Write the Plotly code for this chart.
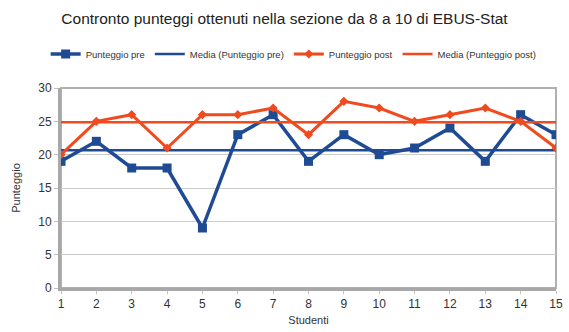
import numpy as np
import plotly.graph_objects as go

# Dati: punteggi per studente prima e dopo
studenti = list(range(1, 16))
punteggio_pre = [19, 22, 18, 18, 9, 23, 26, 19, 23, 20, 21, 24, 19, 26, 23]
punteggio_post = [20, 25, 26, 21, 26, 26, 27, 23, 28, 27, 25, 26, 27, 25, 21]
y_ticks = [0, 5, 10, 15, 20, 25, 30]

media_pre = float(np.mean(punteggio_pre))
media_post = float(np.mean(punteggio_post))

BLU = "#1f4a94"
ARANCIO = "#f04a1e"
FONT = "Liberation Sans, Arial, sans-serif"

fig = go.Figure()
fig.add_trace(go.Scatter(
    x=studenti, y=punteggio_pre, name="Punteggio pre", mode="lines+markers",
    line=dict(color=BLU, width=3.5),
    marker=dict(symbol="square", size=9, color=BLU),
))
fig.add_trace(go.Scatter(
    x=studenti, y=[media_pre] * len(studenti), name="Media (Punteggio pre)",
    mode="lines", line=dict(color=BLU, width=2.5),
))
fig.add_trace(go.Scatter(
    x=studenti, y=punteggio_post, name="Punteggio post", mode="lines+markers",
    line=dict(color=ARANCIO, width=3),
    marker=dict(symbol="diamond", size=7, color=ARANCIO),
))
fig.add_trace(go.Scatter(
    x=studenti, y=[media_post] * len(studenti), name="Media (Punteggio post)",
    mode="lines", line=dict(color=ARANCIO, width=2.5),
))

fig.update_layout(
    width=569, height=332,
    margin=dict(l=61, r=6, t=88, b=44),
    paper_bgcolor="white", plot_bgcolor="white",
    font=dict(family=FONT, color="#333333"),
    title=dict(
        text="Contronto punteggi ottenuti nella sezione da 8 a 10 di EBUS-Stat",
        x=0.5, xanchor="center", y=0.945, yanchor="middle",
        font=dict(size=15.5, color="#222222", family=FONT),
    ),
    legend=dict(
        orientation="h", x=0.47, xanchor="center", y=1.17, yanchor="middle",
        font=dict(size=9.5, color="#333333"), itemwidth=30,
        tracegroupgap=0,
    ),
    showlegend=True,
)

fig.update_xaxes(
    range=[1, 15], tickvals=studenti, ticktext=[str(s) for s in studenti],
    showgrid=False, zeroline=False, ticklabeloverflow="allow",
    showline=True, linecolor="#a8a8a8", linewidth=3,
    ticks="outside", ticklen=3, tickcolor="#c0c0c0",
    tickfont=dict(size=12, color="#333333"),
    title=dict(text="Studenti", font=dict(size=11, color="#333333"), standoff=6),
)
fig.update_yaxes(
    range=[0, 30], tickvals=y_ticks,
    showgrid=True, gridcolor="#cccccc", gridwidth=1, zeroline=False,
    showline=True, linecolor="#a8a8a8", linewidth=3,
    ticks="outside", ticklen=4, tickcolor="#c0c0c0",
    tickfont=dict(size=12, color="#333333"),
    title=dict(text="Punteggio", font=dict(size=11, color="#333333"), standoff=16),
)

# Cornice dell'area del grafico
fig.add_shape(type="rect", xref="paper", yref="paper", x0=0, y0=0, x1=1, y1=1,
              line=dict(color="#b0b0b0", width=2), layer="below")

fig.write_html("out.html")
